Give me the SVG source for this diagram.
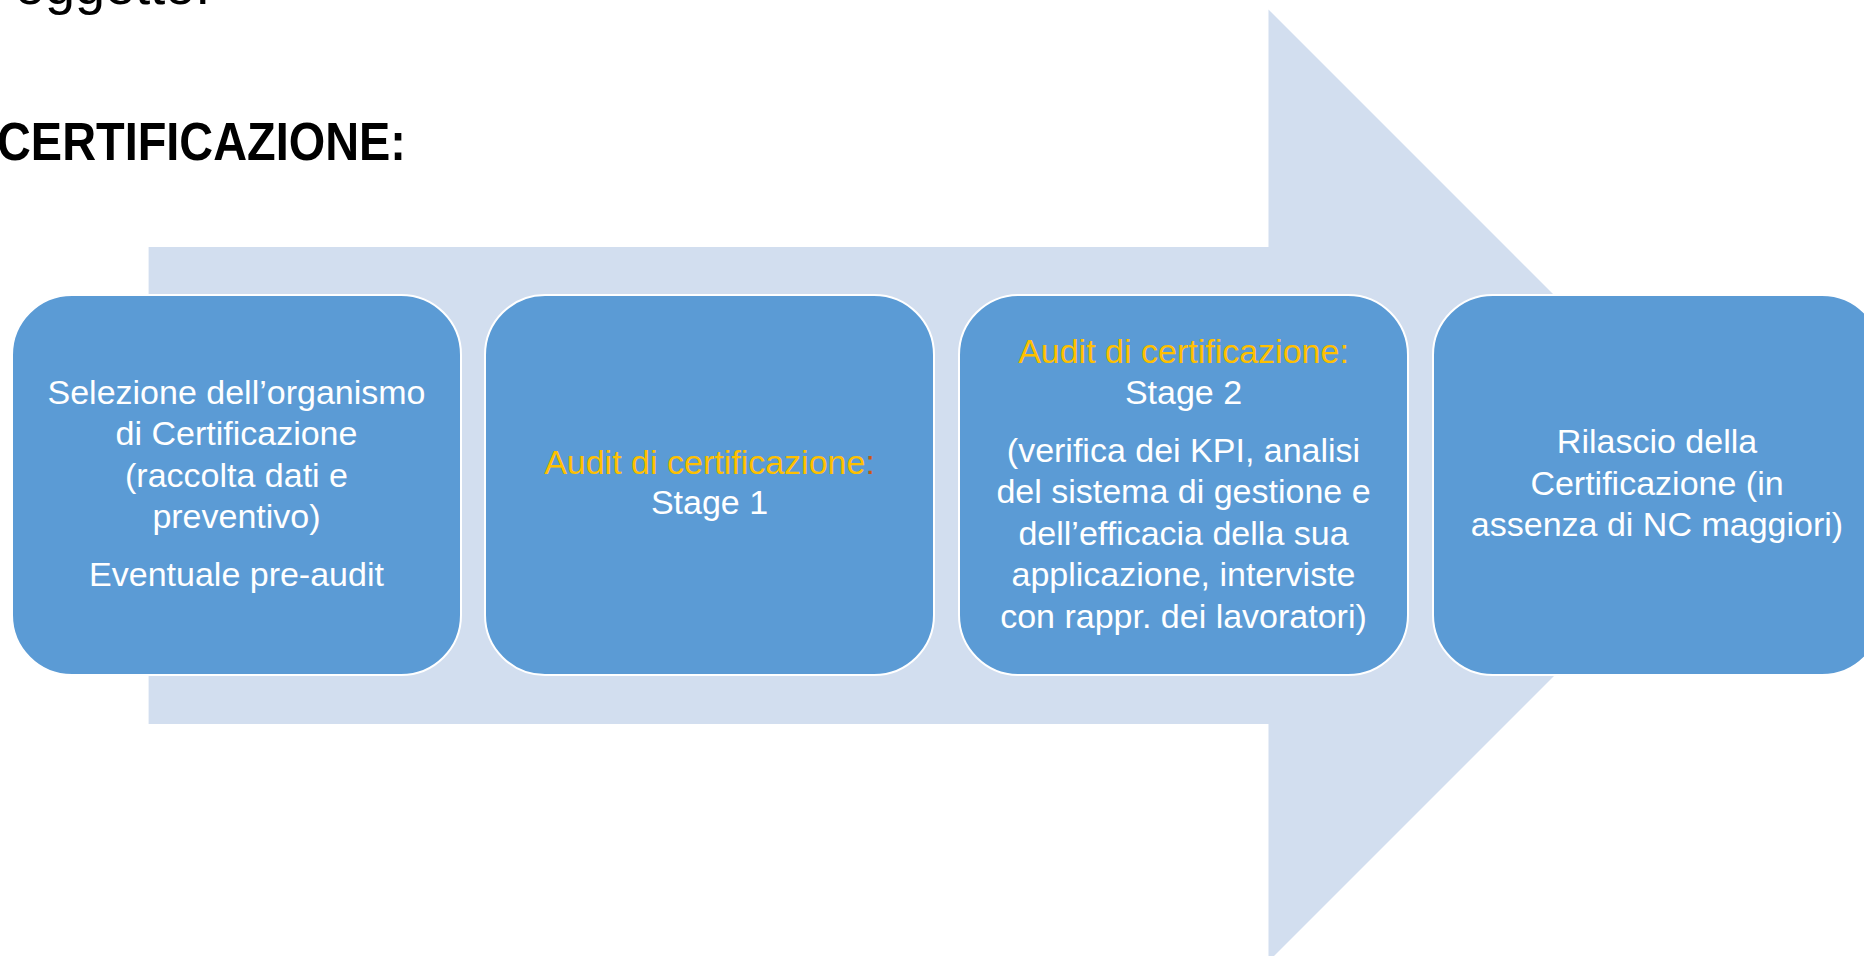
<svg xmlns="http://www.w3.org/2000/svg" width="1864" height="956" viewBox="0 0 1864 956">
<style>
.box{fill:#5B9BD5;stroke:#FFFFFF;stroke-width:2}
.t{font-family:"Liberation Sans",Arial,sans-serif;font-size:34px;fill:#FFFFFF;text-anchor:middle}
.y{fill:#FFC000}
.o{fill:#C55A11}
.title{font-family:"Liberation Sans",Arial,sans-serif;font-weight:bold;font-size:54px;fill:#000000}
.top{font-family:"Liberation Sans",Arial,sans-serif;font-size:54px;fill:#000000}
</style>
<rect x="0" y="0" width="1864" height="956" fill="#FFFFFF"/>
<text class="top" x="15" y="4">oggetto.</text>
<text class="title" x="-3" y="160" textLength="409" lengthAdjust="spacingAndGlyphs">CERTIFICAZIONE:</text>
<g id="connectors">
<path d="M148.6,247 L1268.5,247 L1268.5,9.5 L1744.5,485.5 L1268.5,961.5 L1268.5,724 L148.6,724 Z" fill="#D2DEEF"/>
</g>
<g id="node1">
<rect class="box" x="12" y="295" width="449" height="380" rx="60" ry="60"/>
<text class="t" x="236.5" y="404">Selezione dell’organismo</text>
<text class="t" x="236.5" y="445">di Certificazione</text>
<text class="t" x="236.5" y="487">(raccolta dati e</text>
<text class="t" x="236.5" y="528">preventivo)</text>
<text class="t" x="236.5" y="586">Eventuale pre-audit</text>
</g>
<g id="node2">
<rect class="box" x="485" y="295" width="449" height="380" rx="60" ry="60"/>
<text class="t y" x="709.5" y="474">Audit di certificazione<tspan class="o">:</tspan></text>
<text class="t" x="709.5" y="514">Stage 1</text>
</g>
<g id="node3">
<rect class="box" x="959" y="295" width="449" height="380" rx="60" ry="60"/>
<text class="t y" x="1183.5" y="363">Audit di certificazione:</text>
<text class="t" x="1183.5" y="404">Stage 2</text>
<text class="t" x="1183.5" y="462">(verifica dei KPI, analisi</text>
<text class="t" x="1183.5" y="503">del sistema di gestione e</text>
<text class="t" x="1183.5" y="545">dell’efficacia della sua</text>
<text class="t" x="1183.5" y="586">applicazione, interviste</text>
<text class="t" x="1183.5" y="628">con rappr. dei lavoratori)</text>
</g>
<g id="node4">
<rect class="box" x="1433" y="295" width="449" height="380" rx="60" ry="60"/>
<text class="t" x="1657" y="453">Rilascio della</text>
<text class="t" x="1657" y="495">Certificazione (in</text>
<text class="t" x="1657" y="536">assenza di NC maggiori)</text>
</g>
</svg>
